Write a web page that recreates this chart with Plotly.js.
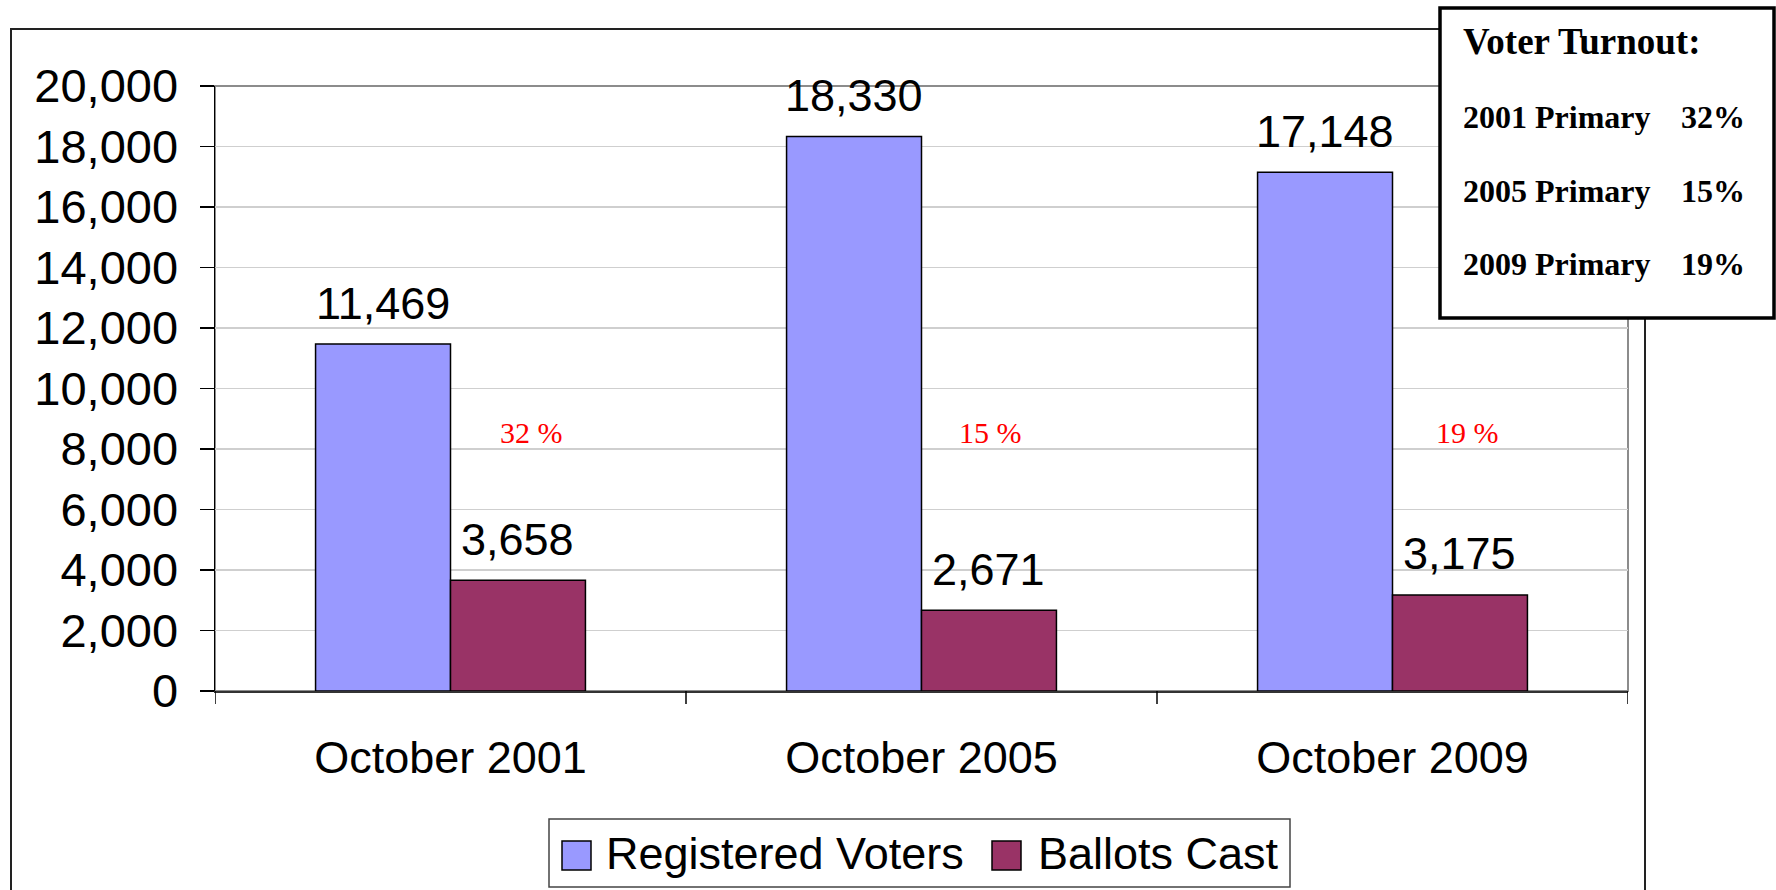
<!DOCTYPE html>
<html>
<head>
<meta charset="utf-8">
<script src="https://cdn.plot.ly/plotly-3.0.1.min.js"></script>
<style>
  html, body { margin: 0; padding: 0; background: #ffffff; }
  #chart { width: 1776px; height: 890px; }
</style>
</head>
<body>
<div id="chart"></div>
<script>
// ---- Data ----
const categories = ["October 2001", "October 2005", "October 2009"];
const seriesNames = ["Registered Voters", "Ballots Cast"];
const registeredVoters = [11469, 18330, 17148];
const ballotsCast = [3658, 2671, 3175];
const turnoutLabels = ["32 %", "15 %", "19 %"];
const boxTitle = "Voter Turnout:";
const boxRowLabels = ["2001 Primary", "2005 Primary", "2009 Primary"];
const boxRowValues = ["32%", "15%", "19%"];
const yTickVals = [0, 2000, 4000, 6000, 8000, 10000, 12000, 14000, 16000, 18000, 20000];

// ---- Styling / layout constants ----
const W = 1776, H = 890;
const M = { l: 215, r: 148, t: 86, b: 199 };
const PW = W - M.l - M.r, PH = H - M.t - M.b;
const px = v => (v - M.l) / PW;          // pixel x -> paper x
const py = v => (H - M.b - v) / PH;      // pixel y -> paper y
const colors = ["#9999ff", "#993366"];
const SANS = "Liberation Sans, Arial, sans-serif";
const SERIF = "Liberation Serif, Times New Roman, serif";
const bargap = 0.427;
const barOff = (1 - bargap) / 4;
const pctOffsets = [0.171, 0.1475, 0.160];

const xIdx = categories.map((c, i) => i);

const traces = [
  { type: "bar", name: seriesNames[0], x: xIdx, y: registeredVoters,
    marker: { color: colors[0], line: { color: "#000000", width: 1.5 } },
    hoverinfo: "skip", showlegend: false },
  { type: "bar", name: seriesNames[1], x: xIdx, y: ballotsCast,
    marker: { color: colors[1], line: { color: "#000000", width: 1.5 } },
    hoverinfo: "skip", showlegend: false }
];

const fmt = v => v.toLocaleString("en-US");
const annotations = [];
// value labels
[registeredVoters, ballotsCast].forEach((arr, s) => {
  arr.forEach((v, i) => {
    annotations.push({
      x: i + (s === 0 ? -barOff : barOff), y: v, xref: "x", yref: "y",
      text: fmt(v), showarrow: false, xanchor: "center", yanchor: "middle",
      yshift: 41, font: { family: SANS, size: 45, color: "#000000" }
    });
  });
});
// red turnout labels
turnoutLabels.forEach((t, i) => {
  annotations.push({
    x: i + pctOffsets[i], y: 8560, xref: "x", yref: "y",
    text: t, showarrow: false, xanchor: "center", yanchor: "middle",
    font: { family: SERIF, size: 30, color: "#ff0000" }
  });
});
// turnout box text
annotations.push({
  x: px(1461), y: py(41), xref: "paper", yref: "paper", text: "<b>" + boxTitle + "</b>",
  showarrow: false, xanchor: "left", yanchor: "middle",
  font: { family: SERIF, size: 37, color: "#000000" }
});
const rowY = [117, 191, 264];
boxRowLabels.forEach((lab, i) => {
  annotations.push({
    x: px(1461), y: py(rowY[i]), xref: "paper", yref: "paper", text: "<b>" + lab + "</b>",
    showarrow: false, xanchor: "left", yanchor: "middle",
    font: { family: SERIF, size: 32, color: "#000000" }
  });
  annotations.push({
    x: px(1679), y: py(rowY[i]), xref: "paper", yref: "paper", text: "<b>" + boxRowValues[i] + "</b>",
    showarrow: false, xanchor: "left", yanchor: "middle",
    font: { family: SERIF, size: 32, color: "#000000" }
  });
});
// legend texts
const legTextX = [604, 1036];
seriesNames.forEach((n, i) => {
  annotations.push({
    x: px(legTextX[i]), y: py(853), xref: "paper", yref: "paper", text: n,
    showarrow: false, xanchor: "left", yanchor: "middle",
    font: { family: SANS, size: 45, color: "#000000" }
  });
});

const shapes = [
  // outer chart border
  { type: "rect", xref: "paper", yref: "paper", x0: px(11), x1: px(1645), y0: py(905), y1: py(29),
    line: { color: "#222222", width: 2 }, fillcolor: "rgba(0,0,0,0)", layer: "below" },
  // plot-area border
  { type: "rect", xref: "paper", yref: "paper", x0: 0, x1: 1, y0: 0, y1: 1,
    line: { color: "#8c8c8c", width: 2 }, fillcolor: "rgba(0,0,0,0)", layer: "below" },
  // turnout box
  { type: "rect", xref: "paper", yref: "paper", x0: px(1440), x1: px(1774), y0: py(318), y1: py(8),
    line: { color: "#000000", width: 3.5 }, fillcolor: "#ffffff", layer: "above" },
  // legend box
  { type: "rect", xref: "paper", yref: "paper", x0: px(549), x1: px(1290), y0: py(887), y1: py(819),
    line: { color: "#444444", width: 1.5 }, fillcolor: "#ffffff", layer: "above" }
];
const swX = [562, 992];
swX.forEach((x0, i) => {
  shapes.push({ type: "rect", xref: "paper", yref: "paper", x0: px(x0), x1: px(x0 + 29),
    y0: py(870), y1: py(841), line: { color: "#000000", width: 1.5 }, fillcolor: colors[i], layer: "above" });
});

const layout = {
  width: W, height: H,
  margin: M,
  paper_bgcolor: "#ffffff", plot_bgcolor: "#ffffff",
  barmode: "group", bargap: bargap, bargroupgap: 0,
  showlegend: false,
  xaxis: {
    type: "linear", range: [-0.5, 2.5],
    tickvals: xIdx, ticktext: categories,
    ticks: "", showgrid: false, zeroline: false,
    showline: true, linecolor: "#333333", linewidth: 2,
    tickfont: { family: SANS, size: 45, color: "#000000" },
    ticklabelstandoff: 26
  },
  yaxis: {
    range: [0, 20000], tickvals: yTickVals, tickformat: ",d",
    ticks: "outside", ticklen: 14, tickwidth: 1.5, tickcolor: "#000000",
    showline: true, linecolor: "#000000", linewidth: 1.5,
    showgrid: true, gridcolor: "#cfcfcf", gridwidth: 1.5, zeroline: false,
    tickfont: { family: SANS, size: 47, color: "#000000" },
    ticklabelstandoff: 12
  },
  shapes: shapes,
  annotations: annotations
};

// category boundary tick marks on x axis (at -0.5, 0.5, 1.5, 2.5)
[-0.5, 0.5, 1.5, 2.5].forEach(b => {
  shapes.push({ type: "line", xref: "x", yref: "paper", x0: b, x1: b, y0: 0, y1: py(704),
    line: { color: "#000000", width: 1.5 }, layer: "above" });
});

Plotly.newPlot("chart", traces, layout, { staticPlot: true, displayModeBar: false });
</script>
</body>
</html>
